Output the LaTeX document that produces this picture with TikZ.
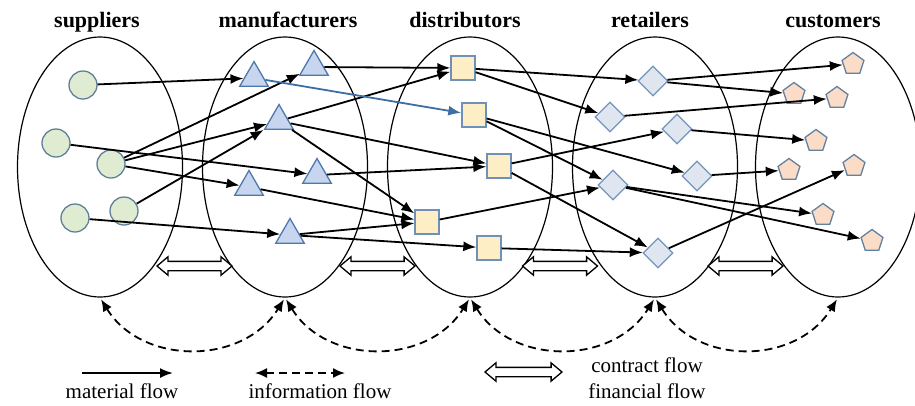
\documentclass[tikz,border=0pt]{standalone}
\usepackage{fontspec}
\setmainfont{Liberation Serif}
\usetikzlibrary{shapes.geometric,shapes.arrows,arrows.meta}

\definecolor{supfill}{HTML}{E0ECD2}
\definecolor{supline}{HTML}{5F8099}
\definecolor{manfill}{HTML}{C7D6EE}
\definecolor{manline}{HTML}{4F78AD}
\definecolor{disfill}{HTML}{FDEEC6}
\definecolor{disline}{HTML}{6F90B8}
\definecolor{retfill}{HTML}{DFE6F0}
\definecolor{retline}{HTML}{7394BB}
\definecolor{cusfill}{HTML}{FBDCC6}
\definecolor{cusline}{HTML}{62809F}
\definecolor{blueline}{HTML}{3E6FA3}

\tikzset{
  layer/.style={draw, ellipse, line width=1.2pt, minimum width=165pt, minimum height=260pt},
  title/.style={anchor=base, font=\fontsize{22}{24}\selectfont\bfseries},
  legtext/.style={anchor=base, font=\fontsize{21}{24}\selectfont},
  supnode/.style={circle, draw=supline, fill=supfill, line width=1.3pt, minimum size=28pt, inner sep=0pt},
  mannode/.style={regular polygon, regular polygon sides=3, draw=manline, fill=manfill, line width=1.3pt, minimum size=33pt, inner sep=0pt},
  disnode/.style={rectangle, draw=disline, fill=disfill, line width=1.3pt, minimum size=24pt, inner sep=0pt},
  retnode/.style={diamond, draw=retline, fill=retfill, line width=1.3pt, minimum size=30pt, inner sep=0pt},
  cusnode/.style={regular polygon, regular polygon sides=5, draw=cusline, fill=cusfill, line width=1.3pt, minimum size=23pt, inner sep=0pt},
  flow/.style={-{Latex[length=13pt,width=10pt]}, line width=1.8pt},
  blueflow/.style={flow, draw=blueline},
  info/.style={{Latex[length=12pt,width=10pt]}-{Latex[length=12pt,width=10pt]}, line width=1.8pt, dash pattern=on 8pt off 5pt},
  contract/.style={double arrow, draw, fill=white, line width=1.3pt, minimum height=75pt, minimum width=17pt, inner sep=4pt, double arrow head extend=4.5pt, double arrow tip angle=80}
}

\begin{document}
\begin{tikzpicture}[x=1pt,y=-1pt]
      \useasboundingbox (0,0) rectangle (915,405);

      % the five stages
      \foreach \n/\x/\tx/\t in {sup/100/97/suppliers, man/285/288/manufacturers, dis/470/465/distributors, ret/655/650/retailers, cus/838/833/customers} {
      	\node[layer] (\n) at (\x,167) {};
      	\node[title] (\n-t) at (\tx,27) {\t};
      }

      \node[supnode] (s1) at (83,85) {};
      \node[supnode] (s2) at (56,143) {};
      \node[supnode] (s3) at (111,164) {};
      \node[supnode] (s4) at (75,218) {};
      \node[supnode] (s5) at (124,211) {};

      \node[mannode] (m1) at (254,78) {};
      \node[mannode] (m2) at (314,67) {};
      \node[mannode] (m3) at (279,121) {};
      \node[mannode] (m4) at (317,175) {};
      \node[mannode] (m5) at (249,187) {};
      \node[mannode] (m6) at (290,235) {};

      \node[disnode] (d1) at (463,68) {};
      \node[disnode] (d2) at (474,115) {};
      \node[disnode] (d3) at (499,166) {};
      \node[disnode] (d4) at (427,222) {};
      \node[disnode] (d5) at (489,248) {};

      \node[retnode] (r1) at (653,81) {};
      \node[retnode] (r2) at (610,117) {};
      \node[retnode] (r3) at (677,129) {};
      \node[retnode] (r4) at (613,185) {};
      \node[retnode] (r5) at (697,176) {};
      \node[retnode] (r6) at (658,253) {};

      \node[cusnode] (c1) at (853,64) {};
      \node[cusnode] (c2) at (794,94) {};
      \node[cusnode] (c3) at (837,98) {};
      \node[cusnode] (c4) at (816,141) {};
      \node[cusnode] (c5) at (789,170) {};
      \node[cusnode] (c6) at (854,166) {};
      \node[cusnode] (c7) at (823,215) {};
      \node[cusnode] (c8) at (872,241) {};

      % material flow
      \foreach \a/\b in {s1/m1, s2/m4, s3/m2, s3/m3, s3/m5, s5/m3, s4/m6,
                         m2/d1, m3/d1, m3/d3, m3/d4, m4/d3, m5/d4, m6/d4, m6/d5,
                         d1/r1, d1/r2, d2/r4, d2/r5, d3/r3, d3/r6, d4/r4, d5/r6,
                         r1/c1, r1/c2, r2/c3, r3/c4, r5/c5, r4/c7, r4/c8, r6/c6} {
      	\draw[flow] (\a) -- (\b);
      }
      \draw[blueflow] (m1) -- (d2);

      % contract and financial flow
      \foreach \i/\x in {1/194.5, 2/377.5, 3/560, 4/745.5} {
      	\node[contract] (k\i) at (\x,266) {};
      }

      % information flow
      \foreach \a/\b in {sup/man, man/dis, dis/ret, ret/cus} {
      	\draw[info, shorten <=2pt, shorten >=2pt] (\a.south) .. controls +(42,68) and +(-42,68) .. (\b.south);
      }

      % legend
      \coordinate (mat-a) at (82,373);
      \coordinate (mat-b) at (173,373);
      \draw[flow] (mat-a) -- (mat-b);
      \node[legtext] (mat-t) at (122,398) {material flow};
      \coordinate (inf-a) at (255,373);
      \coordinate (inf-b) at (345,373);
      \draw[info] (inf-a) -- (inf-b);
      \node[legtext] (inf-t) at (320,398) {information flow};
      \node[contract, minimum height=77pt] (con) at (523.5,372) {};
      \node[legtext] (con-t) at (647,372) {contract flow};
      \node[legtext] (fin-t) at (647,398) {financial flow};

\end{tikzpicture}
\end{document}
